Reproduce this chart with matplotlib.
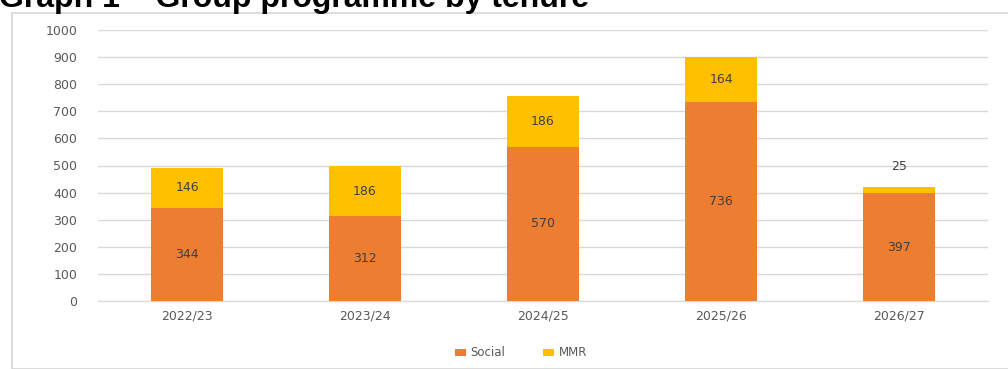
import matplotlib.pyplot as plt
import numpy as np
from matplotlib.patches import Rectangle

years = ["2022/23", "2023/24", "2024/25", "2025/26", "2026/27"]
social = [344, 312, 570, 736, 397]
mmr = [146, 186, 186, 164, 25]

W, H = 1008, 369
fig = plt.figure(figsize=(W / 100, H / 100), dpi=100)
ax = fig.add_axes([98 / W, 1 - 301 / H, 890 / W, 271 / H])

# chart frame around the plot area
fig.patches.append(Rectangle((11.5 / W, 0), 1.2, 1 - 12.5 / H, transform=fig.transFigure,
                             fill=False, edgecolor="#d9d9d9", linewidth=1.3))

fig.text(-1 / W, 1 - 7.5 / H, "Graph 1 \u2013 Group programme by tenure", fontsize=23,
         fontweight="bold", family="Liberation Sans", color="black", va="baseline")

x = np.arange(len(years))
width = 0.4
b1 = ax.bar(x, social, width, color="#ed7d31", label="Social", zorder=3)
b2 = ax.bar(x, mmr, width, bottom=social, color="#ffc000", label="MMR", zorder=3)

for i in range(len(years)):
    ax.text(x[i], social[i] / 2, str(social[i]), ha="center", va="center",
            fontsize=9, color="#404040", zorder=4)
    if mmr[i] < 60:
        # small segment: label sits above the bar
        ypos = social[i] + mmr[i] + 75
    else:
        ypos = social[i] + mmr[i] / 2
    ax.text(x[i], ypos, str(mmr[i]), ha="center", va="center",
            fontsize=9, color="#404040", zorder=4)

ax.set_xlim(-0.5, len(years) - 0.5)
ax.set_ylim(0, 1000)
ax.set_yticks(np.arange(0, 1001, 100))
ax.set_xticks(x)
ax.set_xticklabels(years)
ax.grid(axis="y", color="#d9d9d9", linewidth=1, zorder=0)
for s in ["left", "right", "top"]:
    ax.spines[s].set_visible(False)
ax.spines["bottom"].set_color("#d9d9d9")
ax.tick_params(axis="both", length=0, labelsize=9, colors="#595959")
ax.tick_params(axis="y", pad=15)
ax.tick_params(axis="x", pad=6)

fig.legend(handles=[b1, b2], loc="center", bbox_to_anchor=(521 / W, 1 - 353 / H),
           ncol=2, frameon=False, fontsize=8.5, labelcolor="#595959",
           handlelength=0.9, handleheight=0.6, columnspacing=3.2, handletextpad=0.4)

fig.savefig("out.png", dpi=100)
